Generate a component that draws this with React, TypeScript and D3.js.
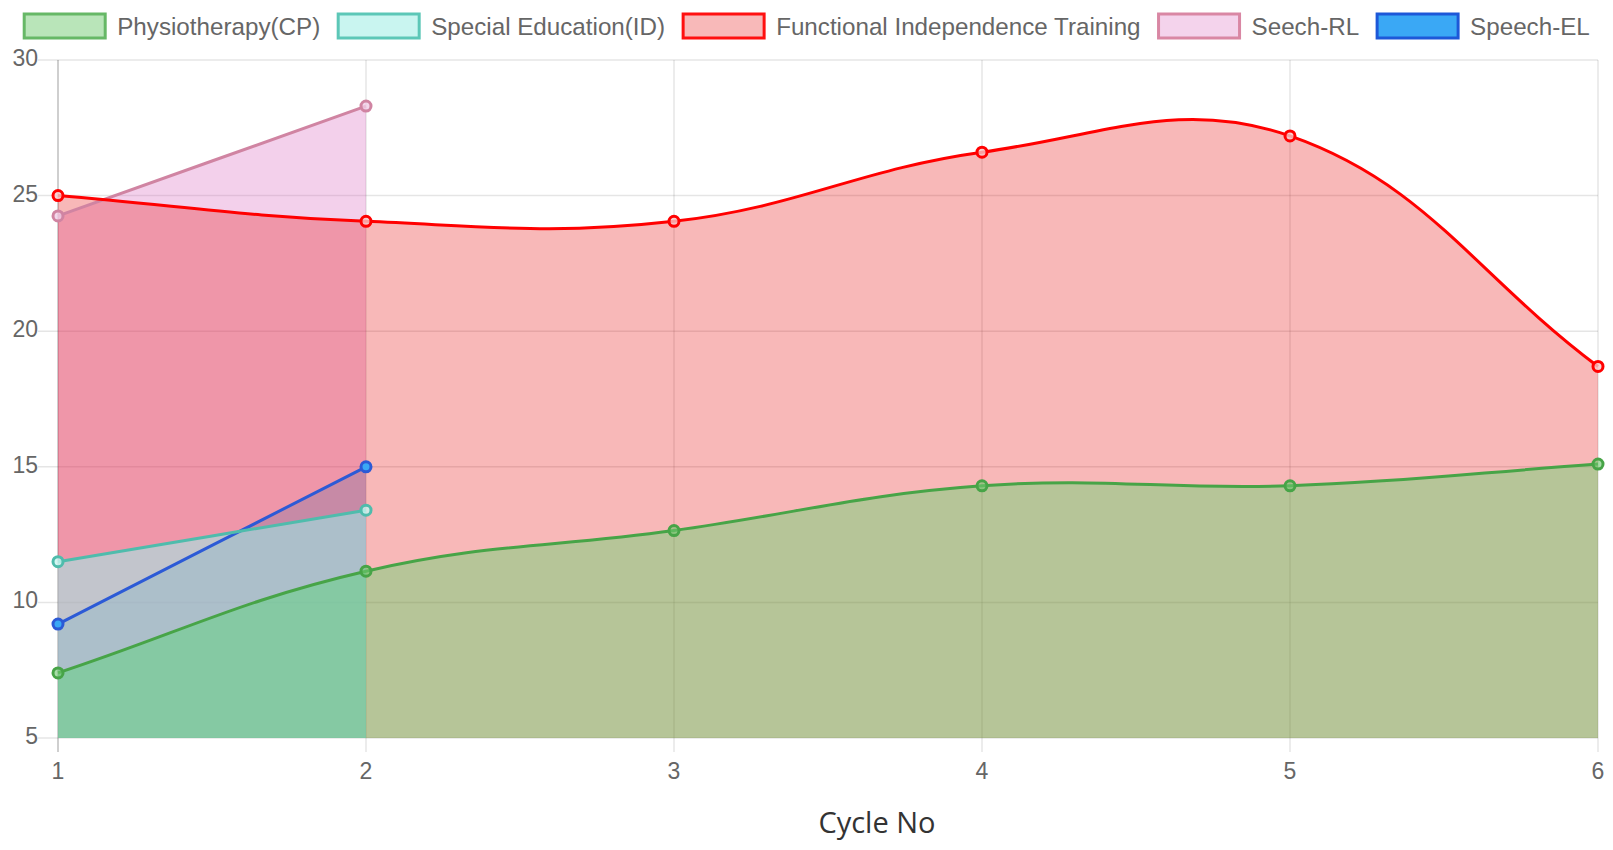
import * as d3 from 'd3';
import { useEffect, useRef } from 'react';

const cycles = [1, 2, 3, 4, 5, 6];
const physiotherapy = [7.4, 11.15, 12.65, 14.3, 14.3, 15.1];
const specialEducation = [11.5, 13.4];
const independenceTraining = [25, 24.05, 24.05, 26.6, 27.2, 18.7];
const speechRL = [24.25, 28.3];
const speechEL = [9.2, 15];
const yTicks = [5, 10, 15, 20, 25, 30];
const seriesNames = [
  'Physiotherapy(CP)',
  'Special Education(ID)',
  'Functional Independence Training',
  'Seech-RL',
  'Speech-EL',
];
const seriesValues = [physiotherapy, specialEducation, independenceTraining, speechRL, speechEL];

// colours: line, area fill, point fill, legend fill, legend border
const styles = [
  { line: '#47a447', area: 'rgba(60,220,92,0.35)', point: 'rgba(110,200,110,0.6)', box: '#b9e5b9', border: '#66b866' },
  { line: '#4fbcac', area: 'rgba(140,255,246,0.45)', point: 'rgba(200,245,240,0.8)', box: '#c9f5f0', border: '#5cc7b7' },
  { line: '#ff0000', area: 'rgba(230,0,0,0.28)', point: 'rgba(248,200,200,0.8)', box: '#f8b9b9', border: '#ff1010' },
  { line: '#d084a2', area: 'rgba(215,100,190,0.3)', point: 'rgba(240,205,230,0.8)', box: '#f4d3ec', border: '#d987a4' },
  { line: '#2c5ad6', area: 'rgba(30,190,240,0.35)', point: '#3aa8f5', box: '#3aa8f5', border: '#1d58d8' },
];

const FONT = '"Liberation Sans", Arial, sans-serif';

// Chart.js style spline (tension 0.4)
function splinePath(pts: [number, number][], left: number, right: number, top: number, bottom: number) {
  const t = 0.4;
  const cps = pts.map((cur, i) => {
    const prev = pts[i - 1] || cur;
    const next = pts[i + 1] || cur;
    const d01 = Math.hypot(cur[0] - prev[0], cur[1] - prev[1]);
    const d12 = Math.hypot(next[0] - cur[0], next[1] - cur[1]);
    let s01 = d01 / (d01 + d12);
    let s12 = d12 / (d01 + d12);
    if (isNaN(s01)) s01 = 0;
    if (isNaN(s12)) s12 = 0;
    const fa = t * s01;
    const fb = t * s12;
    const clamp = (p: [number, number]): [number, number] => [
      Math.max(left, Math.min(right, p[0])),
      Math.max(top, Math.min(bottom, p[1])),
    ];
    return {
      prev: clamp([cur[0] - fa * (next[0] - prev[0]), cur[1] - fa * (next[1] - prev[1])]),
      next: clamp([cur[0] + fb * (next[0] - prev[0]), cur[1] + fb * (next[1] - prev[1])]),
    };
  });
  let d = `M${pts[0][0]},${pts[0][1]}`;
  for (let i = 1; i < pts.length; i++) {
    const a = cps[i - 1].next;
    const b = cps[i].prev;
    d += `C${a[0]},${a[1]} ${b[0]},${b[1]} ${pts[i][0]},${pts[i][1]}`;
  }
  return d;
}

const LineChart = () => {
  const ref = useRef<SVGSVGElement | null>(null);

  useEffect(() => {
    const width = 1613;
    const height = 850;
    const left = 58;
    const right = 1598;
    const top = 60;
    const bottom = 738;

    const x = d3.scaleLinear().domain([1, 6]).range([left, right]);
    const y = d3.scaleLinear().domain([5, 30]).range([bottom, top]);

    const svg = d3.select(ref.current).attr('width', width).attr('height', height);
    svg.selectAll('*').remove();

    // grid
    const grid = svg.append('g');
    grid
      .selectAll('line.h')
      .data(yTicks)
      .join('line')
      .attr('x1', left - 20)
      .attr('x2', right)
      .attr('y1', (d) => y(d))
      .attr('y2', (d) => y(d))
      .attr('stroke', 'rgba(0,0,0,0.1)')
      .attr('stroke-width', 1.5);
    grid
      .selectAll('line.v')
      .data(cycles)
      .join('line')
      .attr('x1', (d) => x(d))
      .attr('x2', (d) => x(d))
      .attr('y1', top)
      .attr('y2', bottom + 14)
      .attr('stroke', (d, i) => (i === 0 ? 'rgba(0,0,0,0.25)' : 'rgba(0,0,0,0.1)'))
      .attr('stroke-width', 1.5);

    // tick labels
    svg
      .append('g')
      .selectAll('text')
      .data(yTicks)
      .join('text')
      .attr('x', left - 20)
      .attr('y', (d) => y(d) - 2)
      .attr('text-anchor', 'end')
      .attr('dominant-baseline', 'central')
      .attr('font-family', FONT)
      .attr('font-size', 23)
      .attr('fill', '#666')
      .text((d) => d);
    svg
      .append('g')
      .selectAll('text')
      .data(cycles)
      .join('text')
      .attr('x', (d) => x(d))
      .attr('y', 771)
      .attr('text-anchor', 'middle')
      .attr('dominant-baseline', 'central')
      .attr('font-family', FONT)
      .attr('font-size', 23)
      .attr('fill', '#666')
      .text((d) => d);

    svg
      .append('text')
      .attr('x', 877)
      .attr('y', 833)
      .attr('text-anchor', 'middle')
      .attr('font-family', '"Open Sans", sans-serif')
      .attr('font-size', 29)
      .attr('fill', '#333')
      .text('Cycle No');

    const pointsOf = (vals: number[]) => vals.map((v, i) => [x(cycles[i]), y(v)] as [number, number]);
    const order = d3.range(seriesValues.length).reverse();

    // fills first (last dataset at the bottom)
    const fills = svg.append('g');
    order.forEach((k) => {
      const pts = pointsOf(seriesValues[k]);
      const line = splinePath(pts, left, right, top, bottom);
      fills
        .append('path')
        .attr('d', `${line}L${pts[pts.length - 1][0]},${y(5)}L${pts[0][0]},${y(5)}Z`)
        .attr('fill', styles[k].area);
    });

    // lines and points
    const lines = svg.append('g');
    order.forEach((k) => {
      const pts = pointsOf(seriesValues[k]);
      lines
        .append('path')
        .attr('d', splinePath(pts, left, right, top, bottom))
        .attr('fill', 'none')
        .attr('stroke', styles[k].line)
        .attr('stroke-width', 3);
      lines
        .append('g')
        .selectAll('circle')
        .data(pts)
        .join('circle')
        .attr('cx', (d) => d[0])
        .attr('cy', (d) => d[1])
        .attr('r', 5)
        .attr('fill', styles[k].point)
        .attr('stroke', styles[k].line)
        .attr('stroke-width', 3);
    });

    // legend
    const legend = svg.append('g');
    const items = seriesNames.map((name, k) => {
      const g = legend.append('g');
      g.append('rect')
        .attr('x', 0)
        .attr('y', 14)
        .attr('width', 81)
        .attr('height', 24)
        .attr('fill', styles[k].box)
        .attr('stroke', styles[k].border)
        .attr('stroke-width', 3);
      const txt = g
        .append('text')
        .attr('x', 93)
        .attr('y', 26)
        .attr('dominant-baseline', 'central')
        .attr('font-family', FONT)
        .attr('font-size', 24.2)
        .attr('fill', '#666')
        .text(name);
      const w = 93 + (txt.node() as SVGTextElement).getComputedTextLength();
      return { g, w };
    });
    const gap = 18;
    const total = d3.sum(items, (d) => d.w) + gap * (items.length - 1);
    let cx = 807 - total / 2;
    items.forEach((it) => {
      it.g.attr('transform', `translate(${cx},0)`);
      cx += it.w + gap;
    });
  }, []);

  return <svg ref={ref} style={{ position: 'absolute', left: 0, top: 0 }} />;
};

export default function App() {
  return <LineChart />;
}
